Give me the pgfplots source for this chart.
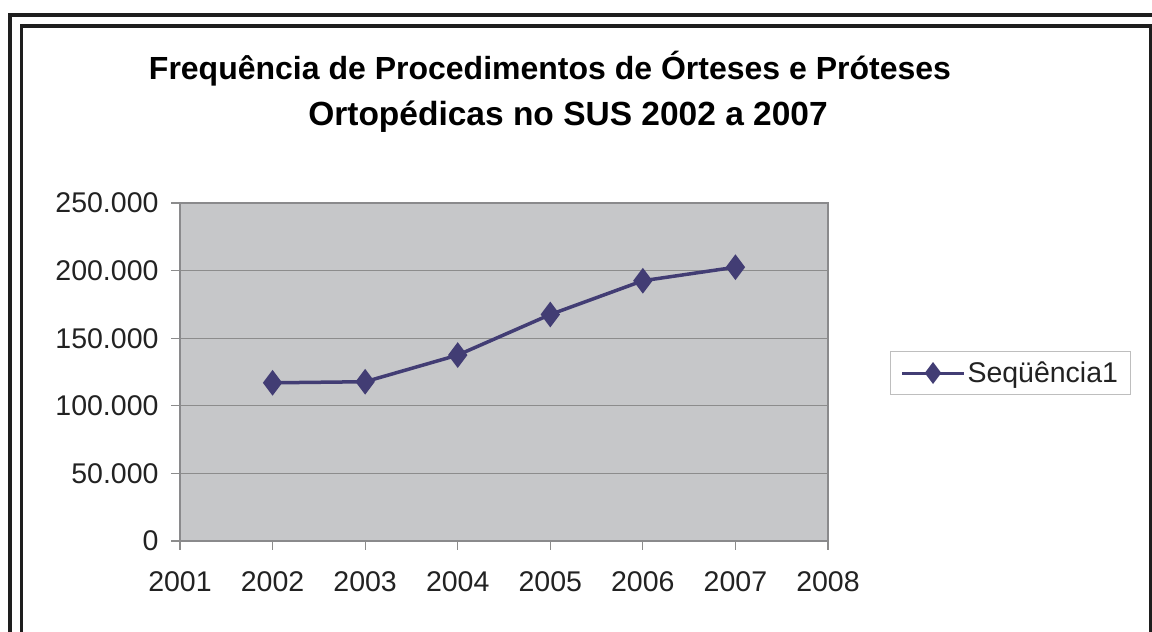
\documentclass[border=0pt]{standalone}
\usepackage{fontspec}
\setmainfont{Liberation Sans}
\usepackage{pgfplots}
\pgfplotsset{compat=1.18}
\definecolor{serie}{RGB}{66,61,116}
\definecolor{plotbg}{RGB}{198,199,201}
\definecolor{gridc}{RGB}{140,140,140}
\definecolor{framec}{RGB}{138,138,140}
\definecolor{txt}{RGB}{34,34,34}
\definecolor{border}{RGB}{30,30,30}
\definecolor{legbox}{RGB}{190,190,190}
\begin{document}
\begin{tikzpicture}[x=1pt,y=1pt]
\useasboundingbox (0,0) rectangle (1152,632);
\begin{scope}
\clip (0,0) rectangle (1152,632);
\draw[line width=4pt, border] (10,-5) -- (10,617.3) -- (1160,617.3);
\draw[line width=3.5pt, border] (21.7,-5) -- (21.7,606) -- (1150.5,606) -- (1150.5,-5);
\end{scope}
\node[font=\bfseries\fontsize{32}{40}\selectfont, anchor=base, text=black] at (550,552) {Frequência de Procedimentos de Órteses e Próteses};
\node[font=\bfseries\fontsize{33.5}{40}\selectfont, anchor=base, text=black] at (568,506) {Ortopédicas no SUS 2002 a 2007};
\begin{axis}[
 at={(180pt,91pt)}, anchor=south west,
 width=648pt, height=338pt, scale only axis,
 xmin=2001, xmax=2008, ymin=0, ymax=250000,
 xtick={2001,2002,2003,2004,2005,2006,2007,2008},
 xticklabels={2001,2002,2003,2004,2005,2006,2007,2008},
 ytick={0,50000,100000,150000,200000,250000},
 yticklabels={0,50.000,100.000,150.000,200.000,250.000},
 scaled y ticks=false,
 tick pos=left, tick align=outside, major tick length=9pt,
 tick style={gridc, line width=1.2pt},
 ymajorgrids, grid style={gridc, line width=1.2pt},
 axis line style={framec, line width=2.5pt},
 axis background/.style={fill=plotbg},
 ticklabel style={font=\fontsize{28.5}{34}\selectfont, text=txt},
 yticklabel style={xshift=-9pt},
 xticklabel style={yshift=-18pt},
 legend style={at={(1.0957,0.497)}, anchor=west, draw=legbox, line width=1pt,
   font=\fontsize{28.5}{34}\selectfont, text=txt, inner xsep=10pt, inner ysep=8pt,
   nodes={inner sep=2pt},
   /tikz/every even column/.style={column sep=5pt}},
 legend image code/.code={\draw[#1, mark repeat=2, mark phase=2, mark size=8.5pt, line width=3pt] plot coordinates {(0pt,0pt) (31pt,0pt) (62pt,0pt)};},
]
\addplot[serie, line width=3.5pt, mark=diamond*, mark size=10pt, mark options={solid, fill=serie}]
 coordinates {(2002,117000) (2003,117800) (2004,137500) (2005,167500) (2006,192500) (2007,202500)};
\addlegendentry{Seqüência1}
\end{axis}
\end{tikzpicture}
\end{document}
